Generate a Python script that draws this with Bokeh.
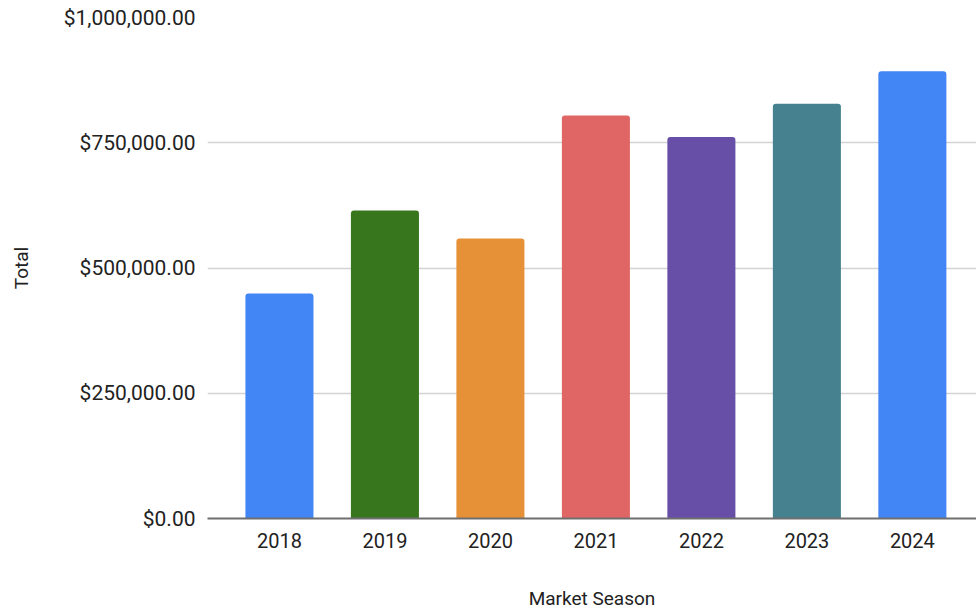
from bokeh.plotting import figure
from bokeh.models import ColumnDataSource, Range1d, FixedTicker, NumeralTickFormatter
from bokeh.embed import file_html
from bokeh.resources import INLINE

seasons = ["2018", "2019", "2020", "2021", "2022", "2023", "2024"]
totals = [449000, 615000, 558700, 804600, 761300, 827900, 892900]
colors = ["#4285F4", "#38761D", "#E69138", "#E06666", "#674EA7", "#45818E", "#4285F4"]
y_ticks = [0, 250000, 500000, 750000, 1000000]

idx = list(range(len(seasons)))
src = ColumnDataSource(dict(x=idx, top=totals, color=colors, season=seasons))

p = figure(width=976, height=613, output_backend="svg", toolbar_location=None,
           x_range=Range1d(-0.682, 6.608), y_range=Range1d(0, 1000000))
p.min_border_left = 207
p.min_border_right = 0
p.min_border_top = 17
p.min_border_bottom = 95
p.outline_line_color = None
p.background_fill_color = "white"
p.border_fill_color = "white"

p.vbar(x="x", top="top", bottom=0, width=0.645, fill_color="color", line_color=None,
       border_radius=(3, 3, 0, 0), source=src)

font = "Roboto"
# x axis
p.xaxis.ticker = FixedTicker(ticks=idx)
p.xaxis.major_label_overrides = {i: s for i, s in zip(idx, seasons)}
p.xaxis.axis_label = "Market Season"
p.xaxis.axis_line_color = "#6f6f6f"
p.xaxis.axis_line_width = 2
p.xaxis.major_tick_line_color = None
p.xaxis.minor_tick_line_color = None
p.xaxis.major_label_text_font = font
p.xaxis.major_label_text_font_size = "20px"
p.xaxis.major_label_text_color = "#222222"
p.xaxis.major_label_standoff = 8
p.xaxis.axis_label_text_font = font
p.xaxis.axis_label_text_font_size = "19px"
p.xaxis.axis_label_text_font_style = "normal"
p.xaxis.axis_label_text_color = "#222222"
p.xaxis.axis_label_standoff = 36

# y axis
p.yaxis.ticker = FixedTicker(ticks=y_ticks)
p.yaxis.formatter = NumeralTickFormatter(format="$0,0.00")
p.yaxis.axis_label = "Total"
p.yaxis.axis_line_color = None
p.yaxis.major_tick_line_color = None
p.yaxis.minor_tick_line_color = None
p.yaxis.major_label_text_font = font
p.yaxis.major_label_text_font_size = "21px"
p.yaxis.major_label_text_color = "#222222"
p.yaxis.major_label_standoff = 6
p.yaxis.axis_label_text_font = font
p.yaxis.axis_label_text_font_size = "19px"
p.yaxis.axis_label_text_font_style = "normal"
p.yaxis.axis_label_text_color = "#222222"
p.yaxis.axis_label_standoff = 28

p.xgrid.grid_line_color = None
p.ygrid.grid_line_color = "#d3d3d3"
p.ygrid.grid_line_width = 1.5

open("out.html", "w").write(file_html(p, INLINE))
